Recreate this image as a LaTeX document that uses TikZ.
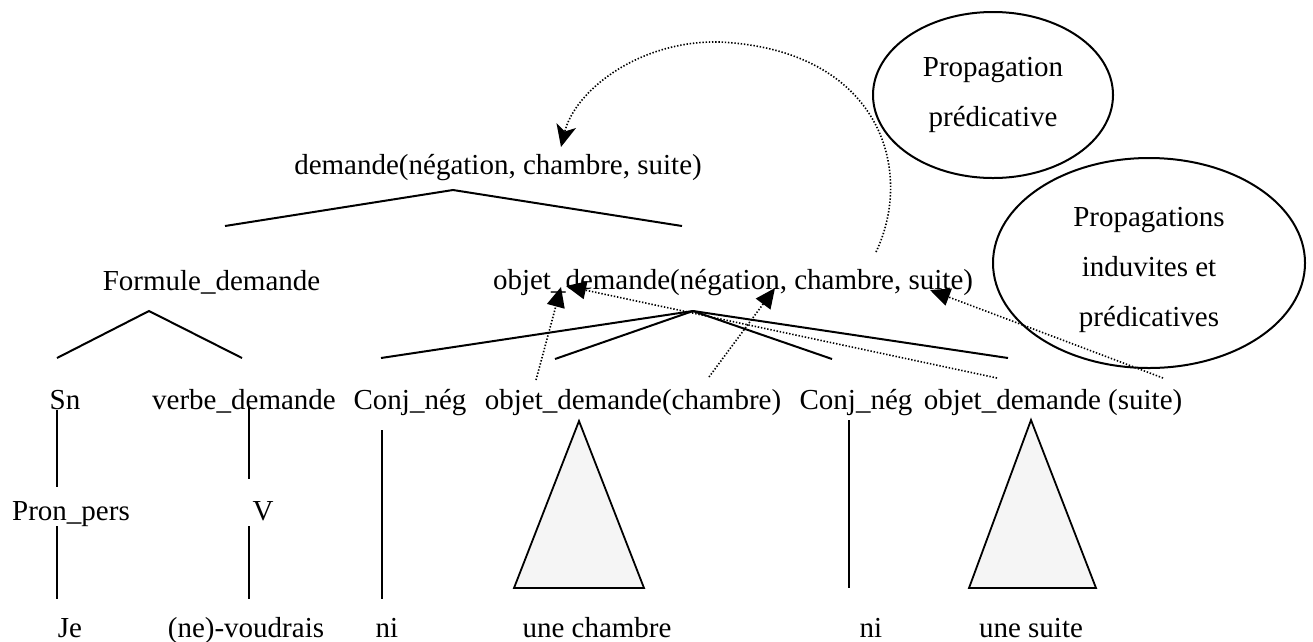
\documentclass[tikz,border=0pt]{standalone}
\usepackage{fontspec}
\setmainfont{Liberation Serif}
\usetikzlibrary{arrows.meta,shapes.geometric}
\begin{document}
\begin{tikzpicture}[x=1pt,y=-1pt,
  lbl/.style={anchor=base,inner sep=0pt,font=\fontsize{29}{35}\selectfont},
  txt/.style={inner sep=0pt,align=center,font=\fontsize{29}{50}\selectfont},
  edge/.style={line width=2pt},
  dotarrow/.style={line width=1.6pt,dash pattern=on 1.4pt off 1.8pt,-{Triangle[length=20pt,width=18pt]}},
  curvearrow/.style={line width=1.6pt,dash pattern=on 1.4pt off 1.8pt,-{Stealth[length=22pt,width=20pt,inset=6pt]}},
  bubble/.style={ellipse,draw,line width=2pt,inner sep=0pt},
  tri/.style={draw,line width=1.8pt,fill=black!4,line join=miter}]
\useasboundingbox (0,0) rectangle (1313,641);

% ---- labels ----
\node[lbl] (top) at (498,174) {demande(négation, chambre, suite)};
\node[lbl] (formule) at (211.5,290) {Formule\_demande};
\node[lbl] (objet) at (733,289) {objet\_demande(négation, chambre, suite)};
\node[lbl] (sn) at (65,409) {Sn};
\node[lbl] (verbe) at (244,409) {verbe\_demande};
\node[lbl] (conj1) at (410,409) {Conj\_nég};
\node[lbl] (obch) at (633,409) {objet\_demande(chambre)};
\node[lbl] (conj2) at (856,409) {Conj\_nég};
\node[lbl] (obsu) at (1053,409) {objet\_demande (suite)};
\node[lbl] (pron) at (71,520) {Pron\_pers};
\node[lbl] (v) at (263,520) {V};
\node[lbl] (je) at (70,637) {Je};
\node[lbl] (voud) at (246,637) {(ne)-voudrais};
\node[lbl] (ni1) at (387,637) {ni};
\node[lbl] (ch) at (597,637) {une chambre};
\node[lbl] (ni2) at (871,637) {ni};
\node[lbl] (su) at (1031,637) {une suite};

% ---- ellipses ----
\node[bubble,minimum width=240pt,minimum height=166pt] (e1) at (993,95) {};
\node[txt] (e1t) at (993,95) {Propagation\\prédicative};
\node[bubble,minimum width=312pt,minimum height=210pt] (e2) at (1149,263) {};
\node[txt] (e2t) at (1149,270) {Propagations\\induvites et\\prédicatives};

% ---- tree coordinates ----
\coordinate (topA) at (453,190);
\coordinate (topL) at (225,226);
\coordinate (topR) at (682,226);
\coordinate (forA) at (149,311);
\coordinate (forL) at (57,358);
\coordinate (forR) at (242,358);
\coordinate (objA) at (693,311);
\coordinate (obj1) at (381,358);
\coordinate (obj2) at (555,359);
\coordinate (obj3) at (832,359);
\coordinate (obj4) at (1008,358);

\draw[edge] (topL) -- (topA) -- (topR);
\draw[edge] (forL) -- (forA) -- (forR);
\draw[edge] (objA) -- (obj1);
\draw[edge] (objA) -- (obj2);
\draw[edge] (objA) -- (obj3);
\draw[edge] (objA) -- (obj4);

% verticals
\coordinate (snB) at (57,410);   \coordinate (pronT) at (57,487);
\coordinate (pronB) at (57,526); \coordinate (jeT) at (57,599);
\coordinate (vbB) at (249,406);  \coordinate (vT) at (249,479);
\coordinate (vB) at (249,526);   \coordinate (voT) at (249,599);
\coordinate (c1B) at (382,430);  \coordinate (n1T) at (382,599);
\coordinate (c2B) at (849,420);  \coordinate (n2T) at (849,588);
\draw[edge] (snB) -- (pronT);
\draw[edge] (pronB) -- (jeT);
\draw[edge] (vbB) -- (vT);
\draw[edge] (vB) -- (voT);
\draw[edge] (c1B) -- (n1T);
\draw[edge] (c2B) -- (n2T);

% triangles
\coordinate (t1A) at (579,421); \coordinate (t1L) at (514,588); \coordinate (t1R) at (644,588);
\coordinate (t2A) at (1031,420); \coordinate (t2L) at (969,588); \coordinate (t2R) at (1096,588);
\draw[tri] (t1A) -- (t1L) -- (t1R) -- cycle;
\draw[tri] (t2A) -- (t2L) -- (t2R) -- cycle;

% ---- dotted propagation arrows ----
\coordinate (aS) at (536,380);  \coordinate (aE) at (561,287);
\coordinate (bS) at (709,377);  \coordinate (bE) at (775,288);
\coordinate (cS) at (997,378);  \coordinate (cE) at (566,286);
\coordinate (dS) at (1163,378); \coordinate (dE) at (930,290);
\draw[dotarrow] (aS) -- (aE);
\draw[dotarrow] (bS) -- (bE);
\draw[dotarrow] (cS) -- (cE);
\draw[dotarrow] (dS) -- (dE);

\coordinate (curS) at (876,252);
\coordinate (curM) at (720,42);
\coordinate (curE) at (561,147);
\draw[curvearrow] (curS) .. controls (915,170) and (880,50) .. (curM)
  .. controls (640,40) and (575,90) .. (curE);
\end{tikzpicture}
\end{document}
